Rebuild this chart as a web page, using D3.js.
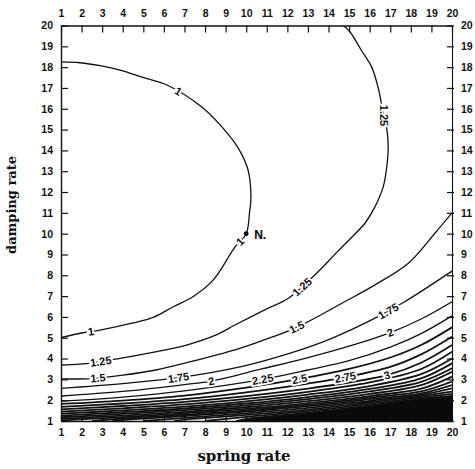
<!DOCTYPE html>
<html>
<head>
<meta charset="utf-8">
<script src="https://cdn.jsdelivr.net/npm/d3@7"></script>
<style>
  body { margin: 0; background: #fff; }
  svg { display: block; }
</style>
</head>
<body>
<svg id="chart" width="475" height="469"></svg>
<script>
// Tick values shown on all four sides
const tickValues = d3.range(1, 21);

// Contour lines of the performance index over (spring rate, damping rate)
const c100 = [[1,18.25],[1.92,18.21],[2.9,18.07],[3.87,17.86],[4.98,17.51],[6.15,17.14],[7.9,16.04],[8.81,15.14],[9.62,14.1],[10.09,13.06],[10.23,11.76],[10.16,11.0],[10,10],[9.45,9.35],[8.4,7.78],[7.41,6.97],[6.46,6.49],[5.48,5.98],[4.5,5.71],[2.9,5.37],[2.07,5.24],[1,5.01]];
const c125 = [[1,3.69],[1.92,3.73],[3.87,4.01],[5.65,4.33],[7.1,4.65],[8.57,5.15],[9.45,5.61],[10.9,6.34],[12.05,6.9],[13.42,8.1],[14.4,9.1],[15.2,9.9],[15.77,10.5],[16.26,11.3],[16.66,12.26],[16.83,13.22],[16.9,14.18],[16.83,15.06],[16.6,16.1],[16.42,16.98],[16.1,18.0],[15.6,18.8],[15.04,19.7],[14.72,20]];
const c150 = [[1,3.02],[2.5,3.04],[4,3.2],[5.6,3.45],[7.3,3.85],[9.45,4.42],[10.75,4.85],[12.45,5.5],[14.8,6.74],[16.26,7.54],[17.88,8.58],[19.17,10.02],[20,11.0]];
const c175 = [[1,2.57],[4,2.8],[6.7,3.08],[9.7,3.6],[12.1,4.25],[14.1,4.95],[16.26,5.94],[17.7,6.73],[20,8.2]];
const c200 = [[1,2.2],[4,2.42],[7,2.75],[8.3,2.92],[10.75,3.5],[13,4.05],[15,4.6],[17,5.25],[18.5,5.9],[20,6.73]];
const c225 = [[1,1.95],[4,2.15],[7,2.45],[10.8,3.0],[13,3.45],[15,3.9],[17,4.55],[18.5,5.2],[20,6.05]];
const c250 = [[1,1.82],[4,1.98],[7,2.22],[10,2.6],[12.6,3.02],[15,3.5],[17,4.05],[18.5,4.65],[20,5.5]];
const c275 = [[1,1.68],[4,1.84],[7,2.05],[10,2.38],[13,2.8],[14.8,3.1],[17,3.6],[18.5,4.2],[20,5.05]];
const c300 = [[1,1.56],[4,1.72],[7,1.92],[10,2.2],[13,2.56],[15,2.85],[16.84,3.2],[18.5,3.8],[20,4.65]];
const c325 = [[1,1.45],[4,1.61],[7,1.8],[10,2.06],[13,2.4],[16,2.85],[18.5,3.5],[20,4.33]];
const c350 = [[1,1.35],[4,1.51],[7,1.69],[10,1.94],[13,2.27],[16,2.68],[18.5,3.25],[20,4.0]];
const c375 = [[1,1.26],[4,1.42],[7,1.6],[10,1.84],[13,2.15],[16,2.54],[18.5,3.05],[20,3.77]];
const c400 = [[1,1.18],[4,1.34],[7,1.52],[10,1.75],[13,2.05],[16,2.42],[18.5,2.88],[20,3.53]];
const c450 = [[1,1.1],[4,1.26],[7,1.44],[10,1.66],[13,1.95],[16,2.3],[18.5,2.72],[20,3.37]];
const c500 = [[1,1.03],[4,1.19],[7,1.37],[10,1.58],[13,1.86],[16,2.2],[18.5,2.55],[20,3.13]];
const c550 = [[2.5,1],[4,1.12],[7,1.3],[10,1.51],[13,1.78],[16,2.12],[18.5,2.42],[20,2.89]];
const c600 = [[3.5,1],[4,1.05],[7,1.24],[10,1.45],[13,1.71],[16,2.05],[18.5,2.33],[20,2.73]];
const c700 = [[5,1],[7,1.15],[10,1.37],[13,1.63],[16,1.97],[18.5,2.26],[20,2.57]];
const c800 = [[6.5,1],[7,1.07],[10,1.29],[13,1.55],[16,1.9],[18.5,2.2],[20,2.41]];
const c900 = [[8,1],[10,1.2],[13,1.47],[16,1.82],[18.5,2.13],[20,2.3]];
const c1000 = [[9.5,1],[10,1.1],[13,1.4],[16,1.75],[18.5,2.07],[20,2.2]];

// Open contours drawn with a normal pen, and the tightly packed ones near the bottom
const sparseLines = [c100, c125, c150, c175, c200, c225];
const denseLines = [c250, c275, c300, c325, c350, c375, c400, c450, c500,
  c550, c600, c700, c800, c900, c1000];

// Inline contour labels: text, line, approximate (spring, damping) spot, optional angle
const contourLabels = [
  ["1", c100, 6.64, 16.76], ["1", c100, 9.72, 9.6], ["1", c100, 2.45, 5.3],
  ["1.25", c125, 16.6, 15.65, 90], ["1.25", c125, 12.7, 7.45], ["1.25", c125, 2.95, 3.8],
  ["1.5", c150, 12.45, 5.5], ["1.5", c150, 2.8, 3.03],
  ["1.75", c175, 16.9, 6.3], ["1.75", c175, 6.7, 3.08],
  ["2", c200, 17.0, 5.25], ["2", c200, 8.3, 2.92],
  ["2.25", c225, 10.8, 3.0], ["2.5", c250, 12.6, 3.02],
  ["2.75", c275, 14.8, 3.1], ["3", c300, 16.84, 3.2]
];

// Nominal design point
const nominal = [10, 10];

const svg = d3.select("#chart");
const x = d3.scaleLinear().domain([1, 20]).range([61, 452]);
const y = d3.scaleLinear().domain([1, 20]).range([421, 25.5]);
const curve = d3.curveCatmullRom.alpha(0.5);
const line = d3.line().x(d => x(d[0])).y(d => y(d[1])).curve(curve);

svg.append("defs").append("clipPath").attr("id", "plotArea")
  .append("rect").attr("x", x(1)).attr("y", y(20))
  .attr("width", x(20) - x(1)).attr("height", y(1) - y(20));

const plot = svg.append("g").attr("clip-path", "url(#plotArea)");

// Region below the last drawn contour, where the lines merge into solid black
const band = d3.area().x(d => x(d[0])).y0(y(1)).y1(d => y(d[1])).curve(curve);
plot.append("path").datum(c1000).attr("d", band).attr("fill", "#0a0a0a");

const pathByLine = new Map();
function drawLines(lines, width) {
  plot.selectAll(null).data(lines).join("path")
    .attr("d", line)
    .attr("fill", "none")
    .attr("stroke", "#111")
    .attr("stroke-width", width)
    .each(function(d) { pathByLine.set(d, this); });
}
drawLines(denseLines, 1.8);
drawLines(sparseLines, 1.3);

// Place each label on its line at the point nearest the requested spot
const labelG = svg.append("g");
contourLabels.forEach(([txt, ln, lx, ly, ang]) => {
  const node = pathByLine.get(ln);
  const total = node.getTotalLength();
  const tx = x(lx), ty = y(ly);
  let best = 0, bestD = Infinity;
  for (let L = 0; L <= total; L += 0.5) {
    const p = node.getPointAtLength(L);
    const dd = (p.x - tx) ** 2 + (p.y - ty) ** 2;
    if (dd < bestD) { bestD = dd; best = L; }
  }
  const p = node.getPointAtLength(best);
  let angle = ang;
  if (angle === undefined) {
    const a = node.getPointAtLength(Math.max(0, best - 5));
    const b = node.getPointAtLength(Math.min(total, best + 5));
    angle = Math.atan2(b.y - a.y, b.x - a.x) * 180 / Math.PI;
    if (angle > 90) angle -= 180;
    if (angle < -90) angle += 180;
  }
  labelG.append("text")
    .attr("transform", `translate(${p.x},${p.y}) rotate(${angle})`)
    .attr("text-anchor", "middle")
    .attr("dy", "0.35em")
    .attr("font-family", "Liberation Sans, Arial, sans-serif")
    .attr("font-weight", "bold")
    .attr("font-size", 11)
    .attr("fill", "#111")
    .attr("stroke", "#fff")
    .attr("stroke-width", 3.5)
    .attr("paint-order", "stroke")
    .text(txt);
});

// Nominal point marker
svg.append("circle").attr("cx", x(nominal[0])).attr("cy", y(nominal[1]))
  .attr("r", 2.4).attr("fill", "#000");
svg.append("text").attr("x", x(nominal[0]) + 8).attr("y", y(nominal[1]) + 5)
  .attr("font-family", "Liberation Sans, Arial, sans-serif")
  .attr("font-weight", "bold").attr("font-size", 12).text("N.");

// Axes on all four sides, ticks pointing into the plot
function styleAxis(g) {
  g.selectAll("text")
    .attr("font-family", "Liberation Sans, Arial, sans-serif")
    .attr("font-weight", "bold")
    .attr("font-size", 10.5)
    .attr("fill", "#111");
  g.selectAll("line").attr("stroke", "#111").attr("stroke-width", 1.2);
  g.select(".domain").attr("stroke", "#111").attr("stroke-width", 1.4);
}

svg.append("g").attr("transform", `translate(0,${y(20)})`)
  .call(d3.axisTop(x).tickValues(tickValues).tickSize(-7).tickSizeOuter(0).tickPadding(8.5))
  .call(styleAxis);
svg.append("g").attr("transform", `translate(0,${y(1)})`)
  .call(d3.axisBottom(x).tickValues(tickValues).tickSize(-5).tickSizeOuter(0).tickPadding(7.5))
  .call(styleAxis);
svg.append("g").attr("transform", `translate(${x(1)},0)`)
  .call(d3.axisLeft(y).tickValues(tickValues).tickSize(-7).tickSizeOuter(0).tickPadding(8))
  .call(styleAxis);
const right = svg.append("g").attr("transform", `translate(${x(20)},0)`)
  .call(d3.axisRight(y).tickValues(tickValues).tickSize(-5).tickSizeOuter(0).tickPadding(9))
  .call(styleAxis);
right.selectAll(".tick line").attr("x1", 2);
right.select(".domain").attr("stroke-width", 1.1);

// Axis titles
svg.append("text")
  .attr("x", 244).attr("y", 461)
  .attr("text-anchor", "middle")
  .attr("font-family", "DejaVu Serif, serif")
  .attr("font-weight", "bold")
  .attr("font-size", 15)
  .attr("fill", "#111")
  .text("spring rate");
svg.append("text")
  .attr("transform", "translate(15.5,205) rotate(-90)")
  .attr("text-anchor", "middle")
  .attr("font-family", "DejaVu Serif, serif")
  .attr("font-weight", "bold")
  .attr("font-size", 13)
  .attr("fill", "#111")
  .text("damping rate");
</script>
</body>
</html>
